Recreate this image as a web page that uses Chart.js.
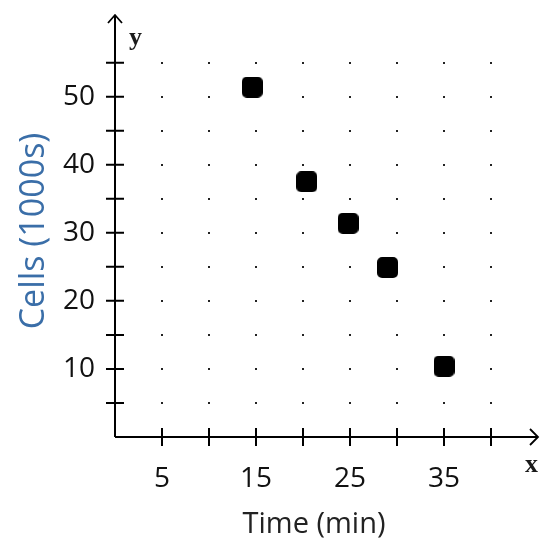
<!DOCTYPE html>
<html lang="en">

<head>
  <meta charset="UTF-8">
  <title>Cells vs Time</title>
  <script src="https://cdn.jsdelivr.net/npm/chart.js"></script>
  <style>
    body { margin: 0; background: #fff; }
  </style>
</head>

<body>
  <canvas id="cellsChart" width="552" height="544"></canvas>
  <script>
    // data
    const timeValues = [14.6, 20.4, 24.8, 29.0, 35.0]
    const cellValues = [51.4, 37.5, 31.4, 24.9, 10.4]
    const xTickLabels = [5, 15, 25, 35]
    const yTickLabels = [10, 20, 30, 40, 50]
    const xTickMarks = [5, 10, 15, 20, 25, 30, 35, 40]
    const yTickMarks = [5, 10, 15, 20, 25, 30, 35, 40, 45, 50, 55]

    const xTitle = 'Time (min)'
    const yTitle = 'Cells (1000s)'

    // rounded black square used as the point marker
    const marker = document.createElement('canvas')
    marker.width = 21
    marker.height = 21
    const mctx = marker.getContext('2d')
    mctx.fillStyle = '#000'
    mctx.beginPath()
    mctx.roundRect(0, 0, 21, 21, 5)
    mctx.fill()

    // axes, arrows, tick marks, dotted grid and axis titles
    const axesPlugin = {
      id: 'axesPlugin',
      beforeDatasetsDraw(chart) {
        const { ctx, scales: { x, y } } = chart
        const x0 = x.getPixelForValue(0)
        const y0 = y.getPixelForValue(0)
        const xEnd = x.getPixelForValue(x.max)
        const yEnd = y.getPixelForValue(y.max)
        ctx.save()

        // dots
        ctx.fillStyle = '#222'
        xTickMarks.forEach(xv => {
          yTickMarks.forEach(yv => {
            ctx.fillRect(Math.round(x.getPixelForValue(xv)) - 1, Math.round(y.getPixelForValue(yv)) - 1, 2, 2)
          })
        })

        ctx.strokeStyle = '#000'
        ctx.lineWidth = 2
        ctx.beginPath()
        ctx.moveTo(x0, y0)
        ctx.lineTo(xEnd, y0)
        ctx.moveTo(x0, y0)
        ctx.lineTo(x0, yEnd)
        // tick marks
        xTickMarks.forEach(v => {
          const px = x.getPixelForValue(v)
          ctx.moveTo(px, y0 - 9)
          ctx.lineTo(px, y0 + 9)
        })
        yTickMarks.forEach(v => {
          const py = y.getPixelForValue(v)
          ctx.moveTo(x0 - 9, py)
          ctx.lineTo(x0 + 9, py)
        })
        ctx.stroke()

        // arrow heads
        ctx.lineWidth = 1.8
        ctx.beginPath()
        ctx.moveTo(xEnd - 8, y0 - 8)
        ctx.lineTo(xEnd, y0)
        ctx.lineTo(xEnd - 8, y0 + 8)
        ctx.moveTo(x0 - 7, yEnd + 8)
        ctx.lineTo(x0, yEnd)
        ctx.lineTo(x0 + 7, yEnd + 8)
        ctx.stroke()

        // x / y letters
        ctx.fillStyle = '#1a1a1a'
        ctx.font = 'bold 26px "Liberation Serif"'
        ctx.textAlign = 'left'
        ctx.textBaseline = 'alphabetic'
        ctx.fillText('y', x0 + 14, yEnd + 30)
        ctx.fillText('x', xEnd - 13, y0 + 35)

        // axis titles
        ctx.textAlign = 'center'
        ctx.textBaseline = 'middle'
        ctx.fillStyle = '#222'
        ctx.font = '29px "Open Sans"'
        ctx.fillText(xTitle, 314, 525)
        ctx.translate(34, 231)
        ctx.rotate(-Math.PI / 2)
        ctx.fillStyle = '#3a6ea8'
        ctx.font = '34px "Open Sans"'
        ctx.fillText(yTitle, 0, 0)
        ctx.restore()
      }
    }

    new Chart(document.getElementById('cellsChart').getContext('2d'), {
      type: 'scatter',
      data: {
        datasets: [{
          data: timeValues.map((t, i) => ({ x: t, y: cellValues[i] })),
          pointStyle: marker,
          pointRadius: 10,
          pointHoverRadius: 10
        }]
      },
      options: {
        responsive: false,
        animation: false,
        events: [],
        layout: { padding: { top: 15, right: 14, left: 0, bottom: 0 } },
        plugins: { legend: { display: false }, tooltip: { enabled: false } },
        scales: {
          x: {
            type: 'linear',
            min: 0,
            max: 45,
            grid: { display: false, drawTicks: false },
            border: { display: false },
            afterFit: s => {
              s.height = 107
              s.paddingLeft = 0
              s.paddingRight = 0
            },
            ticks: {
              stepSize: 5,
              autoSkip: false,
              maxRotation: 0,
              padding: 25,
              color: '#111',
              font: { family: 'Open Sans', size: 28 },
              callback: v => xTickLabels.includes(v) ? String(v) : ''
            }
          },
          y: {
            type: 'linear',
            min: 0,
            max: 62,
            grid: { display: false, drawTicks: false },
            border: { display: false },
            afterFit: s => {
              s.width = 115
              s.paddingTop = 0
              s.paddingBottom = 0
            },
            ticks: {
              stepSize: 5,
              autoSkip: false,
              padding: 20,
              color: '#111',
              font: { family: 'Open Sans', size: 28 },
              callback: v => yTickLabels.includes(v) ? String(v) : ''
            }
          }
        }
      },
      plugins: [axesPlugin]
    })
  </script>
</body>

</html>
